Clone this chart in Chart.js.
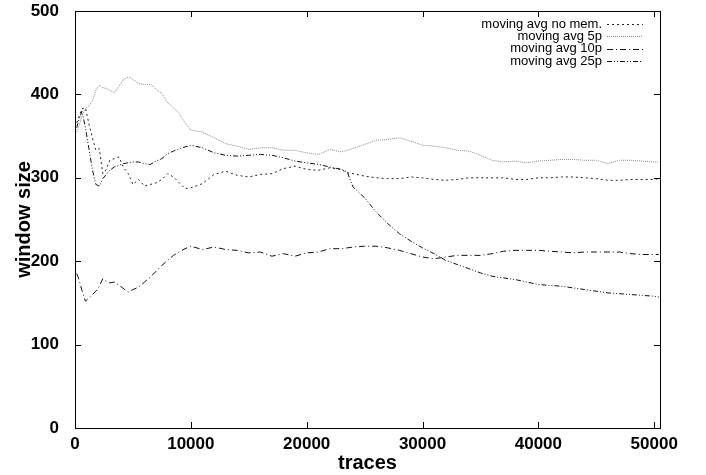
<!DOCTYPE html>
<html>
<head>
<meta charset="utf-8">
<script src="https://cdn.jsdelivr.net/npm/chart.js@4/dist/chart.umd.min.js"></script>
<style>
  html, body { margin: 0; padding: 0; background: #fff; }
  #wrap { width: 706px; height: 475px; position: relative; }
</style>
</head>
<body>
<div id="wrap"><canvas id="c" width="706" height="475"></canvas></div>
<script>
// ---- data ----
const traces = [150, 300, 600, 900, 1200, 1500, 1800, 2100, 2400, 2700, 3000, 3400, 3800, 4200, 4600, 5000, 5500, 6000, 6500, 7000, 7500, 8000, 8500, 9000, 9500, 10000, 11000, 12000, 13000, 14000, 15000, 16000, 17000, 18000, 19000, 20000, 21000, 22000, 23000, 23500, 24000, 25000, 26000, 27000, 28000, 29000, 30000, 31000, 32000, 33000, 34000, 35000, 36000, 37000, 38000, 39000, 40000, 41000, 42000, 43000, 44000, 45000, 46000, 47000, 48000, 49000, 50000, 50400];

const noMem = [366, 372, 383, 384, 365, 348, 333, 335, 305, 310, 321, 323, 325, 312, 305, 292, 298, 290, 292, 294, 298, 305, 301, 294, 287, 288, 293, 304, 308, 303, 301, 304, 305, 311, 314, 310, 309, 312, 310, 306, 305, 302, 300, 299, 299, 301, 300, 298, 297, 298, 300, 300, 300, 300, 298, 298, 300, 300, 301, 301, 300, 299, 297, 297, 298, 298, 298, 299];

const avg5p = [355, 360, 375, 383, 386, 392, 405, 411, 408, 407, 405, 402, 410, 418, 421, 418, 413, 412, 412, 406, 401, 390, 384, 377, 366, 357, 355, 348, 341, 338, 334, 336, 336, 333, 333, 330, 328, 334, 331, 333, 335, 340, 345, 346, 348, 344, 339, 338, 336, 333, 332, 327, 321, 319, 320, 318, 320, 321, 322, 322, 321, 321, 317, 321, 321, 320, 319, 319];

const avg10p = [185, 180, 165, 152, 156, 160, 164, 170, 179, 176, 174, 175, 171, 167, 163, 166, 169, 175, 181, 188, 195, 201, 207, 211, 215, 218, 214, 217, 214, 213, 210, 211, 206, 209, 206, 210, 211, 215, 215, 216, 217, 218, 218, 216, 213, 209, 205, 203, 205, 207, 207, 207, 209, 212, 213, 213, 213, 212, 211, 210, 211, 211, 211, 211, 209, 208, 208, 208];

const avg25p = [360, 368, 380, 360, 335, 310, 292, 290, 299, 304, 309, 313, 315, 317, 318, 319, 319, 317, 316, 320, 323, 329, 332, 335, 337, 339, 336, 330, 327, 326, 327, 328, 327, 324, 320, 318, 316, 313, 310, 307, 289, 276, 259, 245, 233, 224, 216, 209, 201, 196, 191, 186, 182, 180, 178, 175, 172, 171, 170, 168, 166, 164, 162, 161, 160, 159, 158, 157];

const seriesLabels = ['moving avg no mem.', 'moving avg 5p', 'moving avg 10p', 'moving avg 25p'];
const xTickValues = [0, 10000, 20000, 30000, 40000, 50000];
const yTickValues = [0, 100, 200, 300, 400, 500];
const xTitle = 'traces';
const yTitle = 'window size';

// ---- build ----
const toPts = vals => vals.map((v, i) => ({ x: traces[i], y: v }));
const styles = [
  { color: '#222', dash: [2, 3] },
  { color: '#8a8a8a', dash: [1, 1] },
  { color: '#111', dash: [6, 3, 1, 3] },
  { color: '#111', dash: [5, 2, 1, 2, 1, 2] }
];
const seriesVals = [noMem, avg5p, avg10p, avg25p];

const datasets = seriesVals.map((vals, i) => ({
  label: seriesLabels[i],
  data: toPts(vals),
  borderColor: styles[i].color,
  borderDash: styles[i].dash,
  borderWidth: 1,
  pointRadius: 0,
  fill: false,
  tension: 0
}));

const frameTicks = {
  id: 'frameTicks',
  afterDatasetsDraw(chart) {
    const { ctx, chartArea: a, scales } = chart;
    ctx.save();
    ctx.strokeStyle = '#000';
    ctx.lineWidth = 1;
    ctx.setLineDash([]);
    ctx.strokeRect(Math.round(a.left) + 0.5, Math.round(a.top) + 0.5, Math.round(a.right - a.left), Math.round(a.bottom - a.top));
    const L = 6;
    ctx.beginPath();
    xTickValues.forEach(v => {
      const px = Math.round(scales.x.getPixelForValue(v)) + 0.5;
      ctx.moveTo(px, a.bottom); ctx.lineTo(px, a.bottom - L);
      ctx.moveTo(px, a.top); ctx.lineTo(px, a.top + L);
    });
    yTickValues.forEach(v => {
      const py = Math.round(scales.y.getPixelForValue(v)) + 0.5;
      ctx.moveTo(a.left, py); ctx.lineTo(a.left + L, py);
      ctx.moveTo(a.right, py); ctx.lineTo(a.right - L, py);
    });
    ctx.stroke();

    // legend (gnuplot style, text right-aligned, sample on the right)
    ctx.font = '13px "Liberation Sans", Arial, sans-serif';
    ctx.fillStyle = '#000';
    ctx.textAlign = 'right';
    ctx.textBaseline = 'middle';
    chart.data.datasets.forEach((ds, i) => {
      const y = a.top + 13 + i * 12.4;
      ctx.fillText(ds.label, a.right - 58, y);
      ctx.beginPath();
      ctx.strokeStyle = ds.borderColor;
      ctx.setLineDash(ds.borderDash);
      ctx.moveTo(a.right - 53, Math.round(y) + 0.5);
      ctx.lineTo(a.right - 17, Math.round(y) + 0.5);
      ctx.stroke();
    });
    ctx.restore();
  }
};

const tickFont = { family: '"Liberation Sans", Arial, sans-serif', size: 17, weight: 'bold' };
const titleFont = { family: '"Liberation Sans", Arial, sans-serif', size: 20, weight: 'bold' };
const plain = v => String(v);

new Chart(document.getElementById('c'), {
  type: 'line',
  data: { datasets },
  options: {
    responsive: false,
    animation: false,
    layout: { padding: { top: 11, right: 46, left: 0, bottom: 0 } },
    plugins: { legend: { display: false }, tooltip: { enabled: false } },
    scales: {
      x: {
        type: 'linear',
        min: 0, max: 50500,
        afterFit: s => { s.height = 47; s.paddingLeft = 0; s.paddingRight = 0; },
        afterBuildTicks: s => { s.ticks = xTickValues.map(v => ({ value: v })); },
        ticks: { font: tickFont, color: '#000', padding: -2, maxRotation: 0, includeBounds: false, callback: plain },
        grid: { display: false },
        border: { display: false },
        title: { display: true, text: xTitle, font: titleFont, color: '#000', padding: { top: 0, bottom: 0 } }
      },
      y: {
        min: 0, max: 500,
        afterFit: s => { s.width = 75; s.paddingTop = 0; s.paddingBottom = 0; },
        afterBuildTicks: s => { s.ticks = yTickValues.map(v => ({ value: v })); },
        ticks: { font: tickFont, color: '#000', padding: 8, callback: plain },
        grid: { display: false },
        border: { display: false },
        title: { display: true, text: yTitle, font: titleFont, color: '#000', padding: { top: 12, bottom: 0 } }
      }
    }
  },
  plugins: [frameTicks]
});
</script>
</body>
</html>
